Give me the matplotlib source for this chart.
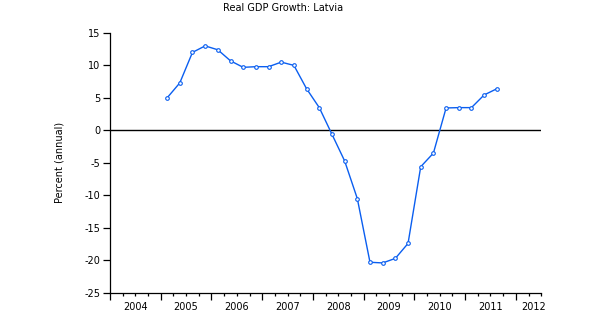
import matplotlib.pyplot as plt
from matplotlib.ticker import MultipleLocator

# dane kwartalne: wzrost realnego PKB Łotwy (r/r, %), od 2005Q1
first_quarter = 2005
growth = [5.0, 7.3, 12.0, 13.0, 12.4, 10.7, 9.7, 9.8, 9.8, 10.5, 10.0, 6.4,
          3.5, -0.6, -4.7, -10.5, -20.3, -20.4, -19.7, -17.4, -5.6, -3.5,
          3.45, 3.5, 3.5, 5.45, 6.4]
year_labels = ['2004', '2005', '2006', '2007', '2008', '2009', '2010', '2011', '2012']
y_ticks = [-25, -20, -15, -10, -5, 0, 5, 10, 15]

# pozycje punktów: środek kwartału
x = [first_quarter + 0.125 + 0.25 * i for i in range(len(growth))]

plt.rcParams['font.family'] = ['DejaVu Sans']
plt.rcParams['font.size'] = 7

fig = plt.figure(figsize=(5.98, 3.29), dpi=100)
ax = fig.add_axes([0.184, 0.110, 0.721, 0.790])

ax.axhline(0, color='black', linewidth=1.0)
ax.plot(x, growth, color='#0a5ef0', linewidth=1.0, marker='o', markersize=2.6,
        markerfacecolor='white', markeredgecolor='#0a5ef0', markeredgewidth=0.8)

ax.set_xlim(2004, 2012.5)
ax.set_ylim(-25, 15)
ax.set_yticks(y_ticks)
ax.set_yticklabels([str(v) for v in y_ticks])

# oś X: duże kreski co rok, małe co kwartał, etykiety pośrodku roku
ax.xaxis.set_major_locator(MultipleLocator(1))
ax.xaxis.set_minor_locator(MultipleLocator(0.25))
ax.set_xticklabels([])
ax.tick_params(axis='x', which='major', length=5, width=0.9, direction='out')
ax.tick_params(axis='x', which='minor', length=2.5, width=0.9, direction='out')
ax.tick_params(axis='y', length=5, width=0.9, direction='out', pad=2)

for i, lab in enumerate(year_labels):
    pos = 2004 + i + 0.5
    if pos > 2012.3:
        pos = 2012.36
    ax.text(pos, -0.054, lab, transform=ax.get_xaxis_transform(),
            ha='center', va='center', fontsize=7)

for side in ['top', 'right']:
    ax.spines[side].set_visible(False)
for side in ['left', 'bottom']:
    ax.spines[side].set_linewidth(0.9)

ax.set_ylabel('Percent (annual)', fontsize=7, labelpad=14)
fig.text(283 / 598, 1 - 8 / 329, 'Real GDP Growth: Latvia', ha='center', va='center', fontsize=7)

plt.savefig('out.png', dpi=100)
